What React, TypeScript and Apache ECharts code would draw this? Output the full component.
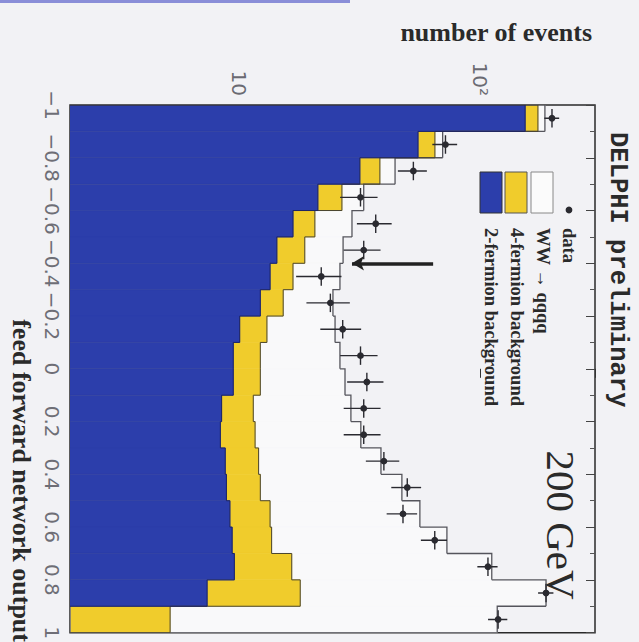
import React, { useEffect, useRef } from 'react';
import * as echarts from 'echarts';

// lower edges of the 20 bins of the network output
const binLow = [-1.0, -0.9, -0.8, -0.7, -0.6, -0.5, -0.4, -0.3, -0.2, -0.1, 0.0, 0.1, 0.2, 0.3, 0.4, 0.5, 0.6, 0.7, 0.8, 0.9];
const BIN_WIDTH = 0.1;

// stacked components (events per bin)
const twoFermion = [154, 55.4, 31.8, 21.3, 16.8, 14.4, 13.5, 12.3, 10.1, 9.5, 9.5, 8.5, 8.4, 8.8, 8.9, 9.2, 9.4, 9.6, 7.4, 0.2];
const fourFermion = [20, 9.7, 6.7, 5.5, 3.9, 4.4, 3.3, 3.0, 3.0, 2.8, 2.8, 3.0, 3.3, 3.3, 3.4, 4.3, 4.3, 7.0, 10.6, 5.0];
const wwQqqq = [12, 5, 6, 6.2, 8.8, 8.3, 9.5, 9.3, 12, 14, 15.3, 17.7, 20.4, 26.8, 35.2, 42.9, 59.3, 95.4, 170, 112.8];
const dataEvents = [199, 72, 53, 32, 37, 33, 22, 24, 27, 32, 34, 33, 33, 40, 50, 48, 65, 108, 188, 119];

// cut arrow
const cutPosition = -0.4;
const cutArrowFrom = 64;
const cutArrowTo = 29.5;

const AXIS_MIN = 2;
const AXIS_MAX = 300;

const BLUE = '#2c3eab';
const YELLOW = '#f0cc2c';
const WHITE = '#f9f9fa';

const blueTop = twoFermion.slice();
const yellowTop = twoFermion.map((v, i) => v + fourFermion[i]);
const totalTop = yellowTop.map((v, i) => v + wwQqqq[i]);

function fillSeries(name: string, tops: number[], color: string) {
  return {
    type: 'custom',
    name,
    clip: true,
    silent: true,
    data: binLow.map((lo, i) => [lo, lo + BIN_WIDTH, tops[i]]),
    encode: { x: 2, y: [0, 1] },
    renderItem: (params: any, api: any) => {
      const lo = api.value(0);
      const hi = api.value(1);
      const v = api.value(2);
      const p1 = api.coord([AXIS_MIN, lo]);
      const p2 = api.coord([v, hi]);
      const w = Math.max(0, p2[0] - p1[0]);
      return {
        type: 'rect',
        shape: { x: p1[0], y: p1[1], width: w, height: p2[1] - p1[1] },
        style: { fill: color, stroke: color, lineWidth: 0.6 },
      };
    },
  };
}

function outlineSeries(name: string, tops: number[], color: string, width: number) {
  return {
    type: 'custom',
    name,
    clip: true,
    silent: true,
    data: binLow.map((lo, i) => [lo, lo + BIN_WIDTH, tops[i]]),
    encode: { x: 2, y: [0, 1] },
    renderItem: (params: any, api: any) => {
      const i = params.dataIndex;
      const lo = api.value(0);
      const hi = api.value(1);
      const v = api.value(2);
      const prev = i === 0 ? AXIS_MIN : tops[i - 1];
      const pts = [api.coord([prev, lo]), api.coord([v, lo]), api.coord([v, hi])];
      if (i === tops.length - 1) pts.push(api.coord([AXIS_MIN, hi]));
      return {
        type: 'polyline',
        shape: { points: pts },
        style: { stroke: color, lineWidth: width, fill: 'none' },
      };
    },
  };
}

const dataSeries = {
  type: 'custom',
  name: 'data',
  clip: true,
  silent: true,
  data: binLow.map((lo, i) => [lo + BIN_WIDTH / 2, dataEvents[i], Math.sqrt(dataEvents[i])]),
  encode: { x: 1, y: 0 },
  renderItem: (params: any, api: any) => {
    const yc = api.value(0);
    const n = api.value(1);
    const e = api.value(2);
    const c = api.coord([n, yc]);
    const l = api.coord([n - e, yc]);
    const r = api.coord([n + e, yc]);
    const t = api.coord([n, yc - BIN_WIDTH * 0.35]);
    const b = api.coord([n, yc + BIN_WIDTH * 0.35]);
    return {
      type: 'group',
      children: [
        { type: 'line', shape: { x1: l[0], y1: c[1], x2: r[0], y2: c[1] }, style: { stroke: '#2a2a30', lineWidth: 1.4 } },
        { type: 'line', shape: { x1: c[0], y1: t[1], x2: c[0], y2: b[1] }, style: { stroke: '#2a2a30', lineWidth: 1.4 } },
        { type: 'circle', shape: { cx: c[0], cy: c[1], r: 3.4 }, style: { fill: '#2a2a30' } },
      ],
    };
  },
};

const cutSeries = {
  type: 'line',
  name: 'cut',
  data: [],
  silent: true,
  markLine: {
    silent: true,
    animation: false,
    symbolSize: [11, 12],
    label: { show: false },
    lineStyle: { color: '#222', width: 3.5, type: 'solid' },
    data: [
      [
        { coord: [cutArrowFrom, cutPosition], symbol: 'none' },
        { coord: [cutArrowTo, cutPosition], symbol: 'arrow' },
      ],
    ],
  },
};

const SERIF = '"Liberation Serif", "DejaVu Serif", serif';
const SANS = '"DejaVu Sans", "Liberation Sans", sans-serif';
const MONO = '"Liberation Mono", "DejaVu Sans Mono", monospace';
const ROT = -Math.PI / 2;

const legendBoxes = [
  { x: 480, color: BLUE, stroke: '#333' },
  { x: 505, color: YELLOW, stroke: '#555' },
  { x: 531, color: '#fbfbfb', stroke: '#888' },
];
const legendTexts = [
  { x: 569, text: 'data' },
  { x: 543, text: 'WW → qqqq' },
  { x: 517, text: '4-fermion background' },
  { x: 491, text: '2-fermion background' },
];

const option: any = {
  animation: false,
  backgroundColor: '#f2f2f5',
  grid: { left: 70, right: 44, top: 105, bottom: 4, show: true, borderColor: '#2a2a2a', borderWidth: 1.5, backgroundColor: 'transparent' },
  xAxis: [
    {
      type: 'log',
      logBase: 10,
      min: AXIS_MIN,
      max: AXIS_MAX,
      position: 'top',
      axisLine: { show: false },
      splitLine: { show: false },
      axisTick: { inside: true, length: 9, lineStyle: { color: '#333' } },
      axisLabel: {
        rotate: -90,
        margin: 9,
        fontSize: 20,
        fontFamily: SANS,
        color: '#6a6a72',
        formatter: (v: number) => (Math.abs(v - 10) < 0.01 ? '10' : Math.abs(v - 100) < 0.1 ? '10²' : ''),
      },
    },
  ],
  yAxis: [
    {
      type: 'value',
      min: -1,
      max: 1,
      interval: 0.2,
      inverse: true,
      position: 'left',
      axisLine: { show: false },
      splitLine: { show: false },
      axisTick: { inside: true, length: 9, lineStyle: { color: '#333' } },
      axisLabel: {
        rotate: -90,
        margin: 8,
        fontSize: 20,
        fontFamily: SANS,
        color: '#6e6e76',
        formatter: (v: number) => String(Math.round(v * 10) / 10).replace('-', '−'),
      },
    },
    {
      type: 'value',
      min: -1,
      max: 1,
      interval: 0.2,
      inverse: true,
      position: 'right',
      axisLine: { show: false },
      splitLine: { show: false },
      axisTick: { inside: true, length: 9, lineStyle: { color: '#444' } },
      minorTick: { show: true, splitNumber: 2, length: 5, lineStyle: { color: '#555' } },
      axisLabel: { show: false },
    },
  ],
  series: [
    fillSeries('total', totalTop, WHITE),
    fillSeries('4-fermion background', yellowTop, YELLOW),
    fillSeries('2-fermion background', blueTop, BLUE),
    outlineSeries('total outline', totalTop, '#55555c', 1.3),
    outlineSeries('yellow outline', yellowTop, '#4a4530', 1),
    outlineSeries('blue outline', blueTop, '#1c2466', 1),
    dataSeries,
    cutSeries,
  ],
  graphic: [
    { type: 'rect', shape: { x: 0, y: 0, width: 350, height: 3 }, style: { fill: '#8a8ed8' }, silent: true },
    {
      type: 'text', x: 592, y: 32, silent: true,
      style: { text: 'number of events', fontFamily: SERIF, fontWeight: 'bold', fontSize: 26, fill: '#2a2a2a', align: 'right', verticalAlign: 'middle' },
    },
    {
      type: 'text', x: 21, y: 642, rotation: ROT, silent: true,
      style: { text: 'feed forward network output', fontFamily: SERIF, fontWeight: 'bold', fontSize: 26, fill: '#2a2a2a', align: 'right', verticalAlign: 'middle' },
    },
    {
      type: 'text', x: 617, y: 132, rotation: ROT, silent: true,
      style: { text: 'DELPHI preliminary', fontFamily: MONO, fontWeight: 'bold', fontSize: 25.5, fill: '#2a2a2a', align: 'left', verticalAlign: 'middle' },
    },
    {
      type: 'text', x: 561, y: 525, rotation: ROT, silent: true,
      style: { text: '200 GeV', fontFamily: SERIF, fontSize: 41, fill: '#2a2a2a', align: 'center', verticalAlign: 'middle' },
    },
    ...legendBoxes.map((b) => ({
      type: 'rect', silent: true,
      shape: { x: b.x, y: 172, width: 22, height: 41 },
      style: { fill: b.color, stroke: b.stroke, lineWidth: 1 },
    })),
    { type: 'circle', silent: true, shape: { cx: 569, cy: 210, r: 3.4 }, style: { fill: '#2a2a30' } },
    ...legendTexts.map((t) => ({
      type: 'text', x: t.x, y: 228, rotation: ROT, silent: true,
      style: { text: t.text, fontFamily: SERIF, fontWeight: 'bold', fontSize: 18.5, fill: '#2a2a2a', align: 'left', verticalAlign: 'middle' },
    })),
  ],
};

export default function App() {
  const ref = useRef<HTMLDivElement>(null);
  useEffect(() => {
    const chart = echarts.init(ref.current as HTMLDivElement, null, { renderer: 'svg' });
    chart.setOption(option);
    return () => chart.dispose();
  }, []);
  return (
    <div
      ref={ref}
      style={{ position: 'absolute', left: 0, top: 0, width: 639, height: 642, background: '#f2f2f5' }}
    />
  );
}
